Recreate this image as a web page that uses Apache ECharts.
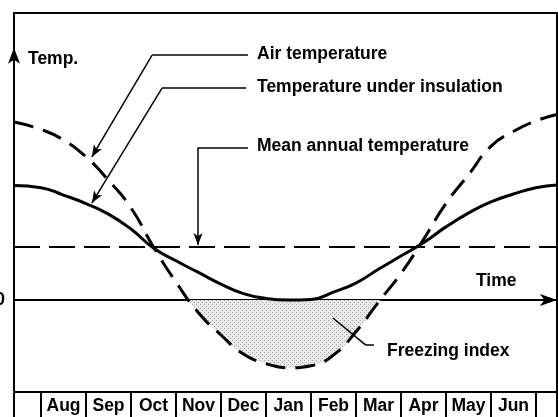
<!DOCTYPE html>
<html>
<head>
<meta charset="utf-8">
<script src="https://cdn.jsdelivr.net/npm/echarts@6/dist/echarts.min.js"></script>
<style>html,body{margin:0;padding:0;background:#fff}#c{width:558px;height:417px}</style>
</head>
<body>
<div id="c"></div>
<script>
// x = months since 1 July, y = temperature (arbitrary units, 0 = freezing)
const monthPos = [0.4, 1, 1.5, 2, 2.5, 3, 3.5, 4, 4.5, 5, 5.5, 6, 6.5, 7, 7.5, 8, 8.5, 9, 9.5, 10, 10.5, 11, 11.5, 12, 12.47];
const airTemp = [16.8, 16.1, 15.1, 13.5, 11.3, 8.7, 5.0, 1.7, -1.2, -3.3, -5.1, -6.0, -6.4, -6.2, -5.2, -3.0, -0.2, 2.5, 5.7, 9.1, 11.8, 14.5, 15.9, 16.9, 17.5];
const insulatedTemp = [10.8, 10.6, 9.9, 9.1, 8.1, 6.7, 4.9, 3.7, 2.6, 1.5, 0.6, 0.15, 0, 0.05, 0.75, 1.6, 2.9, 4.15, 5.4, 6.9, 8.2, 9.25, 10.0, 10.6, 10.85];
const meanAnnual = 5;
const tableMonths = ['Aug', 'Sep', 'Oct', 'Nov', 'Dec', 'Jan', 'Feb', 'Mar', 'Apr', 'May', 'Jun'];
const yTickValues = [0];
const xRange = [0.4, 12.47];
const yRange = [-8.68, 27.08];

// leader lines (data coordinates) for the annotations
const airLeader = [[5.6, 23.1], [3.47, 23.1], [2.13, 13.5]];
const insLeader = [[5.56, 20.0], [3.69, 20.0], [2.13, 9.15]];
const meanLeader = [[5.6, 14.4], [4.49, 14.4], [4.49, 5.2]];
const freezeLeader = [[8.4, -4.25], [8.22, -4.25], [7.49, -1.7]];
const yArrow = [[0.4, 21.0], [0.4, 23.8]];

const labels = [
  {text: 'Temp.', x: 28, y: 59},
  {text: 'Air temperature', x: 257, y: 54},
  {text: 'Temperature under insulation', x: 257, y: 87},
  {text: 'Mean annual temperature', x: 257, y: 146},
  {text: 'Time', x: 476, y: 281},
  {text: 'Freezing index', x: 387, y: 351}
];

const FONT = '"Liberation Sans", Arial, Helvetica, sans-serif';
const zip = (xs, ys) => xs.map((x, i) => [x, ys[i]]);

// part of the air-temperature curve below 0 (with its zero crossings)
function belowZero(xs, ys) {
  const out = [];
  for (let i = 0; i < xs.length; i++) {
    if (i > 0 && (ys[i - 1] > 0) !== (ys[i] > 0)) {
      const f = ys[i - 1] / (ys[i - 1] - ys[i]);
      out.push([xs[i - 1] + f * (xs[i] - xs[i - 1]), 0]);
    }
    if (ys[i] <= 0) out.push([xs[i], ys[i]]);
  }
  return out;
}

function legs(pts, arrow, size) {
  const out = [];
  for (let i = 0; i < pts.length - 1; i++) {
    const last = i === pts.length - 2;
    out.push([
      {coord: pts[i], symbol: 'none'},
      {coord: pts[i + 1], symbol: (last && arrow) ? 'arrow' : 'none', symbolSize: size || [7, 12]}
    ]);
  }
  return out;
}

// stipple texture for the freezing index area
const tex = document.createElement('canvas');
tex.width = 4; tex.height = 4;
(function () {
  const g = tex.getContext('2d');
  g.fillStyle = '#e8e8e8'; g.fillRect(0, 0, 4, 4);
  g.fillStyle = '#aaaaaa'; g.fillRect(0, 0, 1, 1); g.fillRect(2, 2, 1, 1);
})();

const chart = echarts.init(document.getElementById('c'), null, {renderer: 'canvas'});
const option = {
  animation: false,
  backgroundColor: '#fff',
  grid: [
    {left: 14, right: 1, top: 13, bottom: 25, show: true, borderColor: '#000', borderWidth: 2, outerBoundsMode: 'none', containLabel: false},
    {left: 14, right: 1, top: 392, bottom: -10, show: true, borderColor: '#000', borderWidth: 2, outerBoundsMode: 'none', containLabel: false},
    {left: 41, right: 22, top: 392, bottom: 0, outerBoundsMode: 'none', containLabel: false}
  ],
  xAxis: [
    {type: 'value', gridIndex: 0, min: xRange[0], max: xRange[1],
     axisLine: {show: true, onZero: true, symbol: ['none', 'arrow'], symbolSize: [9, 17], lineStyle: {color: '#000', width: 2}},
     axisTick: {show: false}, axisLabel: {show: false}, splitLine: {show: false}},
    {type: 'value', gridIndex: 1, min: 0, max: 1, show: false},
    {type: 'category', gridIndex: 2, data: tableMonths, position: 'top', boundaryGap: true,
     axisLine: {show: false}, axisTick: {show: false},
     axisLabel: {inside: true, interval: 0, margin: 5, color: '#000', fontSize: 17.5, fontWeight: 'bold', fontFamily: FONT},
     splitLine: {show: true, interval: 0, lineStyle: {color: '#000', width: 2}}}
  ],
  yAxis: [
    {type: 'value', gridIndex: 0, min: yRange[0], max: yRange[1],
     axisLine: {show: false}, axisTick: {show: false}, splitLine: {show: false},
     axisLabel: {customValues: yTickValues, margin: 9, color: '#000', fontSize: 17.5, fontWeight: 'bold', fontFamily: FONT}},
    {type: 'value', gridIndex: 1, show: false},
    {type: 'value', gridIndex: 2, show: false}
  ],
  series: [
    {type: 'line', name: 'Freezing index', data: belowZero(monthPos, airTemp), smooth: true, symbol: 'none',
     lineStyle: {width: 0, opacity: 0}, areaStyle: {opacity: 1, color: {image: tex, repeat: 'repeat'}}, z: 1, silent: true},
    {type: 'line', name: 'Air temperature', data: zip(monthPos, airTemp), smooth: true, symbol: 'none',
     lineStyle: {color: '#000', width: 3, type: [20, 10]}, z: 3, silent: true},
    {type: 'line', name: 'Temperature under insulation', data: zip(monthPos, insulatedTemp), smooth: true, symbol: 'none',
     lineStyle: {color: '#000', width: 3}, z: 3, silent: true,
     markLine: {silent: true, symbol: ['none', 'none'], label: {show: false},
       lineStyle: {color: '#000', width: 2, type: [26, 9]}, data: [{yAxis: meanAnnual}]}},
    {type: 'line', name: 'annotations', data: [], z: 4, silent: true,
     markLine: {silent: true, symbol: ['none', 'none'], label: {show: false},
       lineStyle: {color: '#000', width: 1.5, type: 'solid'},
       data: [].concat(legs(airLeader, true), legs(insLeader, true), legs(meanLeader, true), legs(freezeLeader, false), legs(yArrow, true, [9, 16]))}}
  ],
  graphic: labels.map(l => ({type: 'text', x: l.x, y: l.y, z: 10,
    style: {text: l.text, font: 'bold 17.5px ' + FONT, fill: '#000', verticalAlign: 'middle', align: 'left'}}))
};
chart.setOption(option);
</script>
</body>
</html>
